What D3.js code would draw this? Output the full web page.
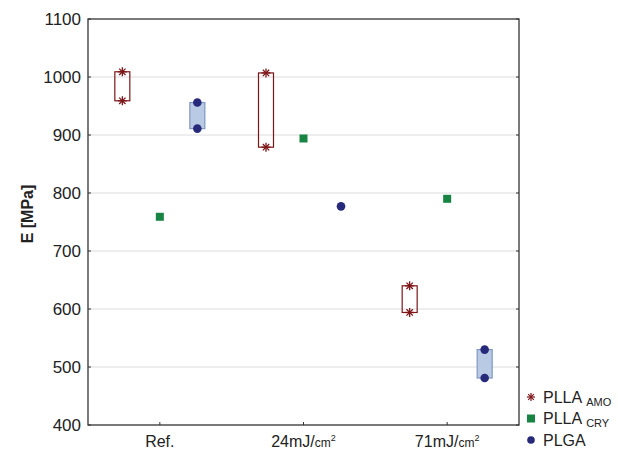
<!DOCTYPE html>
<html>
<head>
<style>
  body { margin: 0; background: #fff; }
  text { font-family: "Liberation Sans", Arial, sans-serif; fill: #222; }
</style>
</head>
<body>
<svg width="618" height="450"></svg>
<script src="https://cdn.jsdelivr.net/npm/d3@7"></script>
<script>
const categories = ['Ref.', '24mJ/cm²', '71mJ/cm²']
const series = ['PLLA_AMO', 'PLLA_CRY', 'PLGA']
// two measurements per group (high, low); CRY has one value
const amoValues = [[1009, 959], [1007, 879], [640, 594]]
const cryValues = [759, 894, 790]
const plgaValues = [[956, 911], [777], [530, 481]]
const yTicks = [400, 500, 600, 700, 800, 900, 1000, 1100]

const svg = d3.select('svg')
const margin = {top: 19, right: 99, bottom: 25, left: 88}
const width = 618 - margin.left - margin.right
const height = 450 - margin.top - margin.bottom

const red = '#7d1518', green = '#178443', navy = '#27297a'

const x = d3.scaleBand().domain(categories).range([0, width]).padding(0)
const y = d3.scaleLinear().domain([400, 1100]).range([height, 0])
const off = d3.scalePoint().domain(series).range([-37.5, 37.5])

const g = svg.append('g').attr('transform', `translate(${margin.left},${margin.top})`)

// grid
g.selectAll('.grid').data(yTicks.slice(1, -1)).enter().append('line')
  .attr('x1', 0).attr('x2', width)
  .attr('y1', d => y(d)).attr('y2', d => y(d))
  .attr('stroke', '#dcdcdc').attr('stroke-width', 1)

const cx = (cat, s) => x(cat) + x.bandwidth() / 2 + off(s)
const bw = 15

// PLLA AMO boxes
amoValues.forEach((v, i) => {
  const c = cx(categories[i], 'PLLA_AMO')
  g.append('rect')
    .attr('x', c - bw / 2).attr('width', bw)
    .attr('y', y(d3.max(v))).attr('height', y(d3.min(v)) - y(d3.max(v)))
    .attr('fill', 'none').attr('stroke', red).attr('stroke-width', 1.2)
  v.forEach(val => {
    const m = g.append('g').attr('transform', `translate(${c},${y(val)})`)
    const r = 4.5
    ;[0, 45, 90, 135].forEach(a => {
      const rad = a * Math.PI / 180
      m.append('line')
        .attr('x1', -r * Math.cos(rad)).attr('y1', -r * Math.sin(rad))
        .attr('x2', r * Math.cos(rad)).attr('y2', r * Math.sin(rad))
        .attr('stroke', red).attr('stroke-width', 1.3)
    })
  })
})

// PLGA boxes
plgaValues.forEach((v, i) => {
  const c = cx(categories[i], 'PLGA')
  if (v.length > 1) {
    g.append('rect')
      .attr('x', c - bw / 2).attr('width', bw)
      .attr('y', y(d3.max(v))).attr('height', y(d3.min(v)) - y(d3.max(v)))
      .attr('fill', '#b9cbe4').attr('stroke', '#7f98c0').attr('stroke-width', 1.2)
  }
  v.forEach(val => {
    g.append('circle').attr('cx', c).attr('cy', y(val)).attr('r', 4.3).attr('fill', navy)
  })
})

// PLLA CRY squares
g.selectAll('.cry').data(cryValues).enter().append('rect')
  .attr('x', (d, i) => cx(categories[i], 'PLLA_CRY') - 4)
  .attr('y', d => y(d) - 4)
  .attr('width', 8).attr('height', 8)
  .attr('fill', green)

// frame
g.append('rect').attr('width', width).attr('height', height)
  .attr('fill', 'none').attr('stroke', '#333').attr('stroke-width', 1.3)

// y axis ticks (inside) and labels
yTicks.forEach(t => {
  g.append('line').attr('x1', 0).attr('x2', 3).attr('y1', y(t)).attr('y2', y(t)).attr('stroke', '#333')
  g.append('line').attr('x1', width - 3).attr('x2', width).attr('y1', y(t)).attr('y2', y(t)).attr('stroke', '#333')
  g.append('text').attr('x', -7).attr('y', y(t)).attr('dy', '0.36em')
    .attr('text-anchor', 'end').style('font-size', '17px').text(t)
})

// x ticks and labels
categories.forEach((c, i) => {
  const px = x(c) + x.bandwidth() / 2
  g.append('line').attr('x1', px).attr('x2', px).attr('y1', height).attr('y2', height - 3).attr('stroke', '#333')
  const t = g.append('text').attr('x', px).attr('y', height + 22).attr('text-anchor', 'middle')
  if (i === 0) {
    t.style('font-size', '16px').text(c)
  } else {
    const num = c.replace('mJ/cm²', '')
    t.append('tspan').style('font-size', '16px').text(num + 'mJ/')
    t.append('tspan').style('font-size', '12px').text('cm')
    t.append('tspan').style('font-size', '9px').attr('dy', '-6').text('2')
  }
})

// y label
svg.append('text')
  .attr('transform', `translate(33,214) rotate(-90)`)
  .attr('text-anchor', 'middle').style('font-size', '16px').style('font-weight', 'bold')
  .text('E [MPa]')

// legend
const lg = svg.append('g').attr('transform', 'translate(531,397)')
const ly = d3.scalePoint().domain(series).range([0, 43])
series.forEach(s => {
  const row = lg.append('g').attr('transform', `translate(0,${ly(s)})`)
  if (s === 'PLLA_AMO') {
    ;[0, 45, 90, 135].forEach(a => {
      const rad = a * Math.PI / 180, r = 4
      row.append('line')
        .attr('x1', -r * Math.cos(rad)).attr('y1', -r * Math.sin(rad))
        .attr('x2', r * Math.cos(rad)).attr('y2', r * Math.sin(rad))
        .attr('stroke', red).attr('stroke-width', 1.2)
    })
  } else if (s === 'PLLA_CRY') {
    row.append('rect').attr('x', -4).attr('y', -4).attr('width', 8).attr('height', 8).attr('fill', green)
  } else {
    row.append('circle').attr('r', 3.8).attr('fill', navy)
  }
  const t = row.append('text').attr('x', 12).attr('dy', '0.36em').style('font-size', '16px')
  const parts = s.split('_')
  t.append('tspan').text(parts[0])
  if (parts[1]) t.append('tspan').attr('dx', 4).attr('dy', 3).style('font-size', '11px').text(parts[1])
})
</script>
</body>
</html>
